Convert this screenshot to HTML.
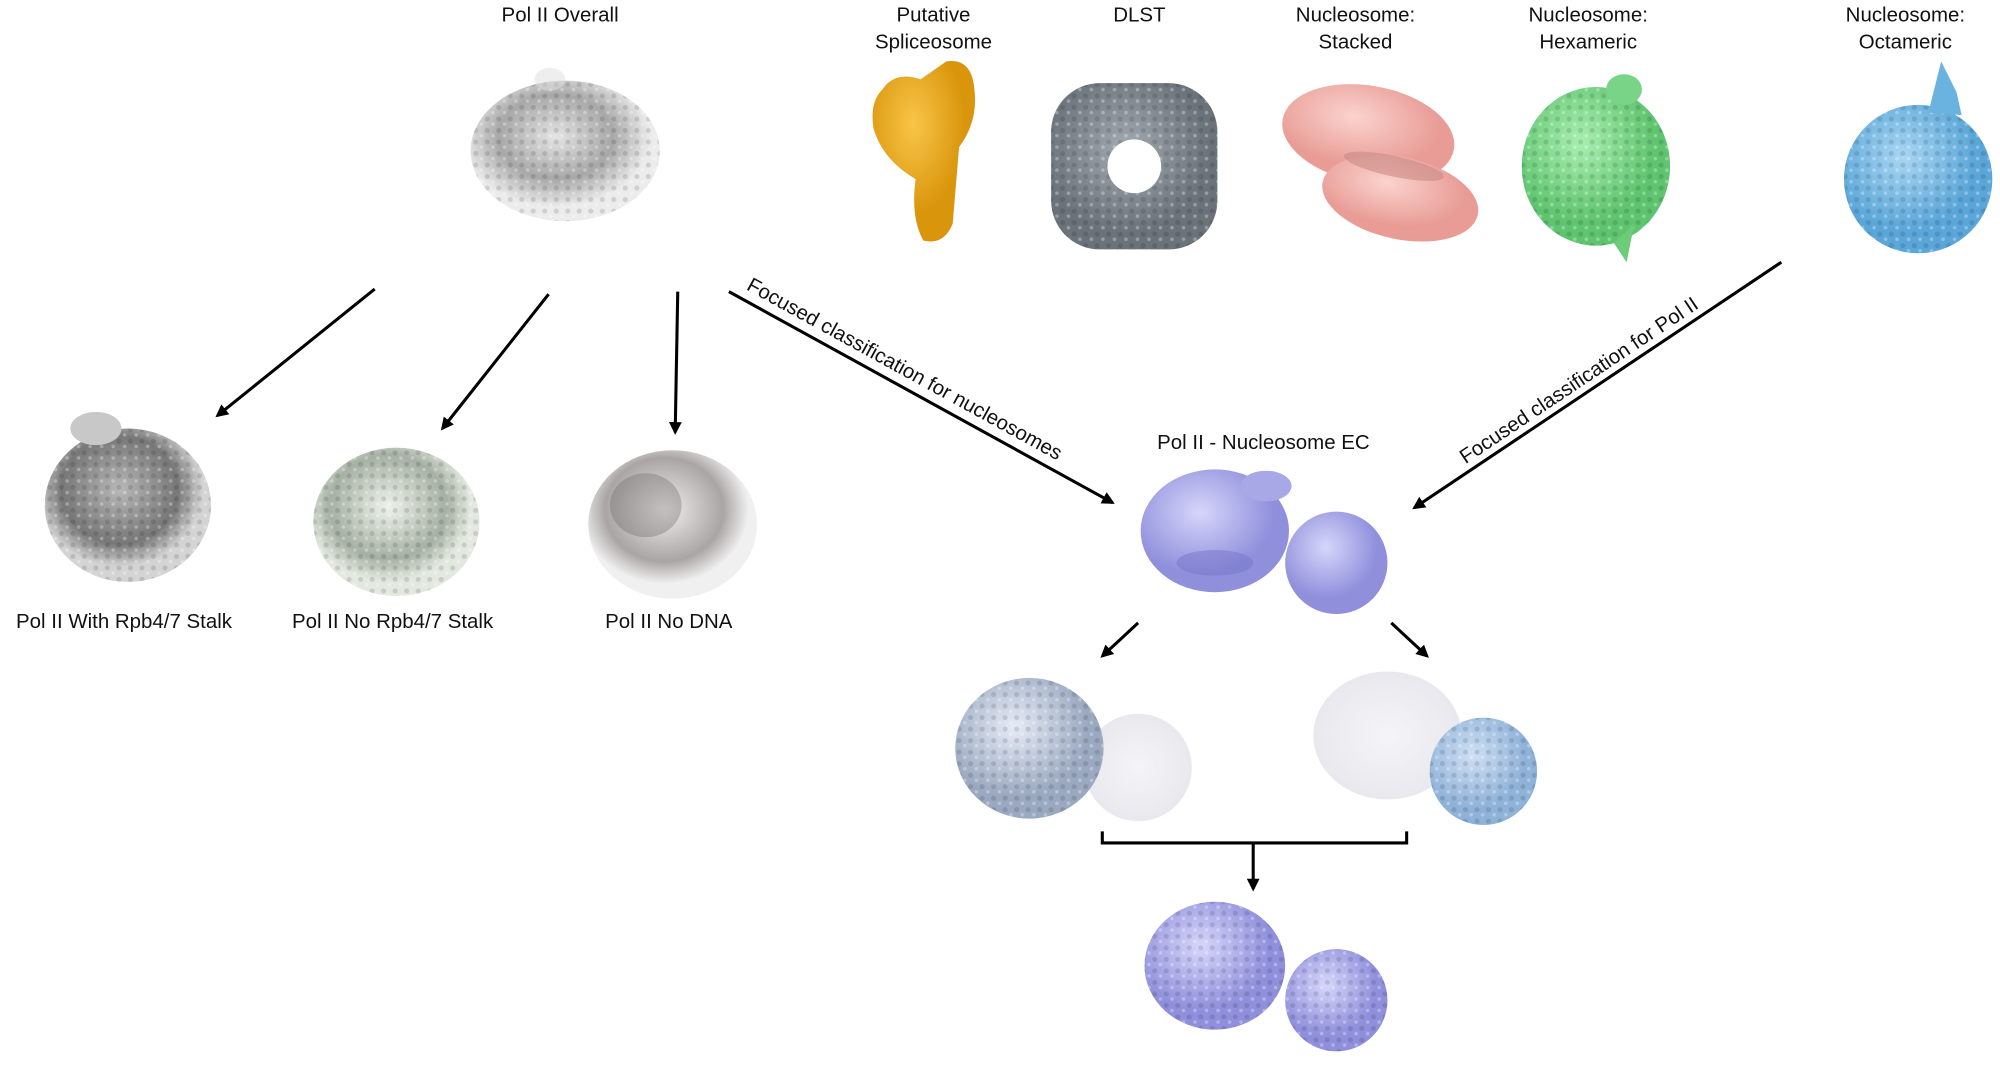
<!DOCTYPE html>
<html><head><meta charset="utf-8"><style>
html,body{margin:0;padding:0;background:#fff;}
svg{display:block;}
text{font-family:"Liberation Sans",sans-serif;font-size:16px;fill:#111;}
</style></head><body>
<svg width="2000" height="1077" viewBox="0 0 1564 842" preserveAspectRatio="none" xmlns="http://www.w3.org/2000/svg">
<defs>
<marker id="ah" markerWidth="10" markerHeight="10" refX="8" refY="5" orient="auto" markerUnits="userSpaceOnUse"><path d="M0,0 L10,5 L0,10 z" fill="#000"/></marker>
<radialGradient id="gGray" cx="45%" cy="40%"><stop offset="0" stop-color="#e4e4e4"/><stop offset="0.6" stop-color="#a8a8a8"/><stop offset="1" stop-color="#ececec"/></radialGradient>
<radialGradient id="gDark" cx="45%" cy="40%"><stop offset="0" stop-color="#b8b8b8"/><stop offset="0.7" stop-color="#777"/><stop offset="1" stop-color="#d4d4d4"/></radialGradient>
<radialGradient id="gGreen" cx="45%" cy="40%"><stop offset="0" stop-color="#eef3ec"/><stop offset="0.7" stop-color="#a6b0a3"/><stop offset="1" stop-color="#e3e9e0"/></radialGradient>
<radialGradient id="gPinkish" cx="45%" cy="40%"><stop offset="0" stop-color="#f4efef"/><stop offset="0.7" stop-color="#aaa5a5"/><stop offset="1" stop-color="#f0f0f0"/></radialGradient>
<radialGradient id="gYel" cx="40%" cy="35%"><stop offset="0" stop-color="#f9c548"/><stop offset="1" stop-color="#d9950c"/></radialGradient>
<radialGradient id="gSlate" cx="45%" cy="40%"><stop offset="0" stop-color="#a4acb2"/><stop offset="1" stop-color="#6a737a"/></radialGradient>
<radialGradient id="gPink" cx="40%" cy="35%"><stop offset="0" stop-color="#fbd3ce"/><stop offset="1" stop-color="#e99c96"/></radialGradient>
<radialGradient id="gLG" cx="40%" cy="35%"><stop offset="0" stop-color="#a9efb0"/><stop offset="1" stop-color="#5fc46f"/></radialGradient>
<radialGradient id="gBlue" cx="40%" cy="35%"><stop offset="0" stop-color="#a9d6f3"/><stop offset="1" stop-color="#5aa6d8"/></radialGradient>
<radialGradient id="gBlue2" cx="40%" cy="35%"><stop offset="0" stop-color="#cfe0f4"/><stop offset="1" stop-color="#8fb2d8"/></radialGradient>
<radialGradient id="gPur" cx="40%" cy="35%"><stop offset="0" stop-color="#d6d6fb"/><stop offset="1" stop-color="#8f8fdc"/></radialGradient>
<radialGradient id="gFaint" cx="50%" cy="50%"><stop offset="0" stop-color="#f5f5f8"/><stop offset="1" stop-color="#e8e8ee"/></radialGradient>
<radialGradient id="gLB" cx="40%" cy="35%"><stop offset="0" stop-color="#e6ecf6"/><stop offset="1" stop-color="#9aa8c0"/></radialGradient>
<pattern id="dots" width="9" height="9" patternUnits="userSpaceOnUse"><circle cx="3" cy="3" r="2" fill="#000" opacity="0.12"/><circle cx="7.5" cy="7" r="1.4" fill="#fff" opacity="0.3"/></pattern>
</defs>

<text x="438" y="17" text-anchor="middle">Pol II Overall</text>
<text x="730" y="17" text-anchor="middle">Putative</text>
<text x="730" y="38" text-anchor="middle">Spliceosome</text>
<text x="891" y="17" text-anchor="middle">DLST</text>
<text x="1060" y="17" text-anchor="middle">Nucleosome:</text>
<text x="1060" y="38" text-anchor="middle">Stacked</text>
<text x="1242" y="17" text-anchor="middle">Nucleosome:</text>
<text x="1242" y="38" text-anchor="middle">Hexameric</text>
<text x="1490" y="17" text-anchor="middle">Nucleosome:</text>
<text x="1490" y="38" text-anchor="middle">Octameric</text>

<ellipse cx="442" cy="118" rx="74" ry="55" fill="url(#gGray)"/>
<ellipse cx="442" cy="118" rx="74" ry="55" fill="url(#dots)"/>
<ellipse cx="430" cy="62" rx="12" ry="9" fill="#ddd" opacity="0.5"/>

<path d="M690,70 Q700,55 720,62 L740,48 Q760,45 762,70 Q765,95 750,115 L745,175 Q738,192 722,188 Q712,170 716,140 Q690,125 683,100 Q680,80 690,70z" fill="url(#gYel)"/>
<rect x="822" y="65" width="130" height="130" rx="38" fill="url(#gSlate)"/>
<rect x="822" y="65" width="130" height="130" rx="38" fill="url(#dots)"/>
<circle cx="887" cy="130" r="21" fill="#fff"/>
<ellipse cx="1070" cy="105" rx="68" ry="38" fill="url(#gPink)" transform="rotate(10 1070 105)"/>
<ellipse cx="1095" cy="155" rx="62" ry="32" fill="url(#gPink)" transform="rotate(12 1095 155)"/>
<ellipse cx="1090" cy="130" rx="40" ry="8" fill="#c98a86" opacity="0.6" transform="rotate(12 1090 130)"/>
<ellipse cx="1248" cy="130" rx="58" ry="62" fill="url(#gLG)"/>
<ellipse cx="1248" cy="130" rx="58" ry="62" fill="url(#dots)"/>
<ellipse cx="1270" cy="70" rx="14" ry="12" fill="#7ad488"/>
<path d="M1262,190 L1272,205 L1278,175z" fill="#6ccc7a"/>
<ellipse cx="1500" cy="140" rx="58" ry="58" fill="url(#gBlue)"/>
<ellipse cx="1500" cy="140" rx="58" ry="58" fill="url(#dots)"/>
<path d="M1508,88 L1518,48 L1530,72 L1534,90z" fill="#6ab2e0"/>

<g stroke="#000" stroke-width="2.4" fill="none">
<line x1="293" y1="226" x2="170" y2="325" marker-end="url(#ah)"/>
<line x1="429" y1="230" x2="346" y2="335" marker-end="url(#ah)"/>
<line x1="530" y1="228" x2="528" y2="338" marker-end="url(#ah)"/>
<line x1="570" y1="228" x2="870" y2="393" marker-end="url(#ah)"/>
<line x1="1393" y1="205" x2="1106" y2="397" marker-end="url(#ah)"/>
<line x1="890" y1="487" x2="862" y2="513" marker-end="url(#ah)"/>
<line x1="1088" y1="487" x2="1116" y2="513" marker-end="url(#ah)"/>
<polyline points="862,650 862,659 1100,659 1100,650"/>
<line x1="980" y1="659" x2="980" y2="695" marker-end="url(#ah)"/>
</g>
<text transform="translate(583,226) rotate(28.8)">Focused classification for nucleosomes</text>
<text transform="translate(1146,363) rotate(-33.8)">Focused classification for Pol II</text>

<ellipse cx="100" cy="395" rx="65" ry="60" fill="url(#gDark)"/>
<ellipse cx="100" cy="395" rx="65" ry="60" fill="url(#dots)"/>
<ellipse cx="75" cy="335" rx="20" ry="13" fill="#c8c8c8"/>
<ellipse cx="310" cy="408" rx="65" ry="58" fill="url(#gGreen)"/>
<ellipse cx="310" cy="408" rx="65" ry="58" fill="url(#dots)"/>
<ellipse cx="526" cy="410" rx="66" ry="58" fill="url(#gPinkish)"/>
<ellipse cx="505" cy="395" rx="28" ry="25" fill="#666" opacity="0.35"/>
<text x="97" y="491" text-anchor="middle">Pol II With Rpb4/7 Stalk</text>
<text x="307" y="491" text-anchor="middle">Pol II No Rpb4/7 Stalk</text>
<text x="523" y="491" text-anchor="middle">Pol II No DNA</text>

<text x="988" y="351" text-anchor="middle">Pol II - Nucleosome EC</text>
<ellipse cx="950" cy="415" rx="58" ry="48" fill="url(#gPur)"/>
<ellipse cx="990" cy="380" rx="20" ry="12" fill="#a8a8e6"/>
<circle cx="1045" cy="440" r="40" fill="url(#gPur)"/>
<ellipse cx="950" cy="440" rx="30" ry="10" fill="#7676c8" opacity="0.5"/>

<circle cx="890" cy="600" r="42" fill="url(#gFaint)"/>
<ellipse cx="805" cy="585" rx="58" ry="55" fill="url(#gLB)"/>
<ellipse cx="805" cy="585" rx="58" ry="55" fill="url(#dots)"/>
<ellipse cx="1085" cy="575" rx="58" ry="50" fill="url(#gFaint)"/>
<circle cx="1160" cy="603" r="42" fill="url(#gBlue2)"/>
<circle cx="1160" cy="603" r="42" fill="url(#dots)"/>

<ellipse cx="950" cy="755" rx="55" ry="50" fill="url(#gPur)"/>
<ellipse cx="950" cy="755" rx="55" ry="50" fill="url(#dots)"/>
<circle cx="1045" cy="782" r="40" fill="url(#gPur)"/>
<circle cx="1045" cy="782" r="40" fill="url(#dots)"/>
</svg>
</body></html>
